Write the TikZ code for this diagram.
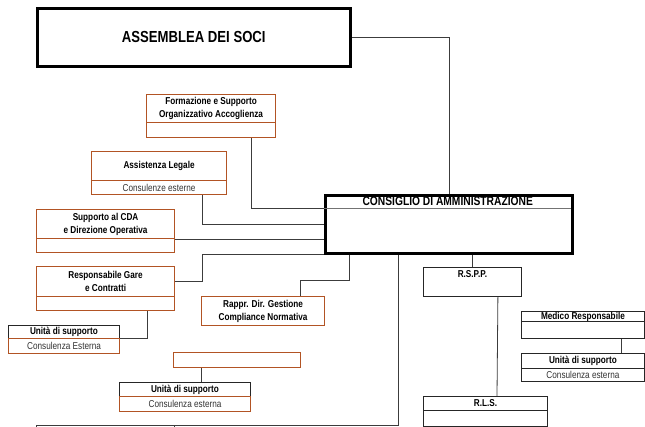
\documentclass[tikz,border=0pt]{standalone}
\usepackage{fontspec}
\setmainfont{Liberation Sans}[FakeStretch=0.82]
\definecolor{brd}{RGB}{178,84,36}
\definecolor{lnk}{RGB}{60,60,60}
\tikzset{cell/.style n args={2}{minimum width=#1,minimum height=#2}}

\begin{document}
\begin{tikzpicture}[x=1pt,y=-1pt,
  every node/.style={inner sep=0pt,anchor=north west,align=center,
    font=\fontsize{10}{13}\selectfont\bfseries},
  brown/.style={draw=brd,line width=1.1pt},
  dark/.style={draw=black!85,line width=0.9pt},
  sub/.style={font=\fontsize{10}{13}\selectfont,text=black!80},
  link/.style={draw=lnk,line width=0.8pt}]
  \path[use as bounding box,clip] (0,0) rectangle (645,427);

  \node[draw,line width=2.6pt,cell={313}{58},font=\fontsize{16}{19}\selectfont\bfseries] (soci) at (36,7){ASSEMBLEA DEI SOCI};

  \node[brown,cell={129}{28}] (formt) at (146,94){Formazione e Supporto\\Organizzativo Accoglienza};
  \node[brown,cell={129}{15}] (formb) at (146,122){};

  \node[brown,cell={135}{29}] (legt) at (91,151){Assistenza Legale};
  \node[brown,cell={135}{14},sub] (legb) at (91,180){Consulenze esterne};

  \node[draw,line width=2.8pt,cell={247}{58}] (cda) at (324,194){};
  \node[cell={247}{14},font=\fontsize{12.5}{14}\selectfont\bfseries] (cdat) at (324,194){CONSIGLIO DI AMMINISTRAZIONE};
  \draw[black!55,line width=0.8pt] (cdat.south west) -- (cdat.south east);

  \node[brown,cell={138}{29}] (suppt) at (36,209){Supporto al CDA\\e Direzione Operativa};
  \node[brown,cell={138}{14}] (suppb) at (36,238){};

  \node[brown,cell={138}{30}] (garet) at (36,266){Responsabile Gare\\e Contratti};
  \node[brown,cell={138}{14}] (gareb) at (36,296){};

  \node[dark,cell={111}{13}] (u1t) at (8,325){Unità di supporto};
  \node[brown,cell={111}{15},sub] (u1b) at (8,338){Consulenza Esterna};

  \node[brown,cell={123}{29}] (rappr) at (201,296){Rappr. Dir. Gestione\\Compliance Normativa};
  \node[brown,cell={127}{15}] (empty) at (173,352){};

  \node[dark,cell={131}{14}] (u2t) at (119,382){Unità di supporto};
  \node[brown,cell={131}{15},sub] (u2b) at (119,396){Consulenza esterna};

  \node[dark,cell={98}{29},label={[anchor=north,yshift=-3pt]north:R.S.P.P.}] (rspp) at (423,267){};

  \node[dark,cell={123}{10}] (medt) at (521,311){Medico Responsabile};
  \node[dark,cell={123}{17}] (medb) at (521,321){};
  \node[dark,cell={123}{15}] (u3t) at (521,353){Unità di supporto};
  \node[dark,cell={123}{13},sub] (u3b) at (521,368){Consulenza esterna};

  \node[dark,cell={124}{14}] (rlst) at (423,396){R.L.S.};
  \node[dark,cell={124}{16}] (rlsb) at (423,410){};

  \coordinate (bus) at (36,425);
  \coordinate (cut1) at (36,432);
  \coordinate (cut2) at (174,432);

  \draw[link] (soci.east) -| (cda.north);
  \draw[link] ([xshift=-25pt]formb.south east) |- (cdat.south west);
  \draw[link] ([xshift=-25pt]legb.south east) |- (cda.west);
  \draw[link] (suppt.south east) -- (cda.west |- suppt.south east);
  \draw[link] (garet.east) -- ++(27,0) |- (cda.south west);
  \draw[link] ([xshift=-28pt]gareb.south east) |- (u1t.south east);
  \draw[link] ([xshift=-25pt]rappr.north east) -- ++(0,-16) -| ([xshift=25pt]cda.south west);
  \draw[link] ([xshift=28pt]empty.south west) -- ([xshift=82pt]u2t.north west);
  \draw[link] ([xshift=74pt]cda.south west) |- (bus) -- (cut1);
  \draw[link] (cut2 |- bus) -- (cut2);

  \draw[link] (cda.south -| rspp.north) -- (rspp.north);
  \draw[link] ([xshift=-24pt]rspp.south east) -- ([xshift=74pt]rlst.north west);
  \draw[link] ([xshift=100pt]medb.south west) -- ([xshift=100pt]u3t.north west);
\end{tikzpicture}
\end{document}
